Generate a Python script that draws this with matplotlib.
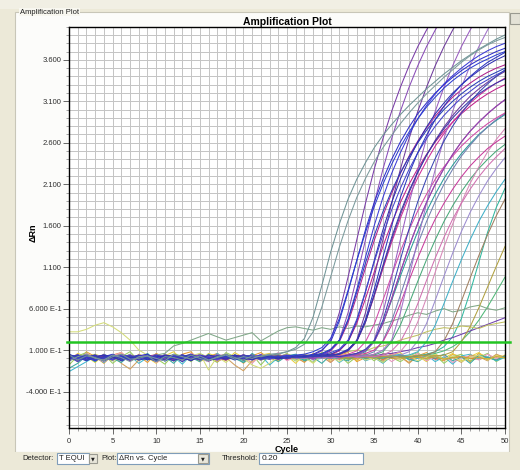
import matplotlib
matplotlib.use('Agg')
import matplotlib.pyplot as plt
from matplotlib.patches import Rectangle
from matplotlib.ticker import FixedLocator, MultipleLocator

W, H = 520, 470
cycles = list(range(51))

# earliest curves (grey-teal)
gray_curves = [
    [0.04, -0.02, 0.03, 0.01, -0.03, 0.02, 0.05, -0.01, 0.00, 0.03,
     -0.04, 0.02, 0.01, -0.02, 0.04, 0.00, -0.03, 0.02, 0.05, 0.01,
     -0.02, 0.03, 0.02, 0.04, 0.05, 0.08, 0.13, 0.24, 0.50, 0.88,
     1.28, 1.62, 1.92, 2.16, 2.36, 2.54, 2.69, 2.82, 2.94, 3.05,
     3.15, 3.25, 3.34, 3.43, 3.51, 3.59, 3.66, 3.73, 3.79, 3.85, 3.90],
    [-0.03, 0.02, 0.05, 0.00, -0.02, 0.04, 0.01, -0.04, 0.02, 0.03,
     0.00, -0.03, 0.05, 0.02, -0.01, 0.03, -0.02, 0.01, 0.04, -0.01,
     0.02, 0.00, 0.03, 0.05, 0.06, 0.08, 0.11, 0.17, 0.32, 0.62,
     0.98, 1.34, 1.66, 1.94, 2.17, 2.37, 2.54, 2.69, 2.83, 2.96,
     3.08, 3.19, 3.29, 3.39, 3.48, 3.57, 3.65, 3.72, 3.78, 3.83, 3.87],
]
gray_colors = ['#6F9496', '#7A9A9C']

blue_curves = [
    [0.03, -0.02, 0.01, 0.04, -0.03, 0.02, 0.00, -0.01, 0.03, 0.05,
     -0.02, 0.01, 0.02, -0.04, 0.03, 0.01, -0.02, 0.00, 0.04, 0.02,
     -0.01, 0.03, 0.00, 0.02, 0.01, 0.02, 0.01, 0.03, 0.05, 0.10,
     0.20, 0.45, 0.80, 1.18, 1.55, 1.88, 2.16, 2.40, 2.61, 2.79,
     2.95, 3.08, 3.20, 3.30, 3.39, 3.47, 3.54, 3.60, 3.65, 3.70, 3.74],
    [-0.02, 0.04, 0.01, -0.03, 0.02, 0.05, 0.00, -0.02, 0.03, 0.01,
     -0.04, 0.02, 0.03, 0.00, -0.02, 0.04, 0.01, -0.01, 0.02, 0.03,
     -0.02, 0.01, 0.04, 0.00, 0.02, 0.03, 0.01, 0.02, 0.04, 0.05,
     0.10, 0.21, 0.47, 0.83, 1.22, 1.60, 1.94, 2.23, 2.48, 2.70,
     2.89, 3.05, 3.19, 3.31, 3.41, 3.50, 3.58, 3.65, 3.71, 3.76, 3.80],
    [0.05, 0.01, -0.03, 0.02, 0.04, -0.01, 0.02, 0.03, -0.02, 0.00,
     0.04, 0.01, -0.03, 0.02, 0.05, 0.00, -0.01, 0.03, 0.02, -0.02,
     0.01, 0.03, 0.00, 0.02, -0.01, 0.02, 0.03, 0.02, 0.04, 0.06,
     0.11, 0.22, 0.46, 0.80, 1.15, 1.48, 1.77, 2.02, 2.24, 2.43,
     2.60, 2.75, 2.88, 3.00, 3.10, 3.19, 3.27, 3.34, 3.40, 3.45, 3.50],
    [0.00, 0.03, -0.02, 0.01, 0.04, 0.02, -0.03, 0.01, 0.03, 0.00,
     -0.02, 0.04, 0.02, 0.01, -0.03, 0.03, 0.00, 0.02, -0.01, 0.04,
     0.01, -0.02, 0.03, 0.02, 0.00, 0.01, 0.03, 0.02, 0.02, 0.04,
     0.05, 0.10, 0.20, 0.45, 0.80, 1.18, 1.55, 1.88, 2.16, 2.40,
     2.61, 2.79, 2.95, 3.08, 3.20, 3.30, 3.39, 3.47, 3.54, 3.60, 3.65],
    [0.02, -0.04, 0.03, 0.00, 0.01, -0.02, 0.04, 0.03, -0.01, 0.02,
     0.00, -0.03, 0.03, 0.01, 0.04, -0.02, 0.02, 0.00, 0.03, -0.01,
     0.02, 0.04, 0.00, -0.01, 0.02, 0.03, 0.01, 0.03, 0.02, 0.04,
     0.07, 0.11, 0.22, 0.47, 0.81, 1.16, 1.49, 1.79, 2.05, 2.28,
     2.48, 2.65, 2.80, 2.93, 3.04, 3.14, 3.22, 3.30, 3.36, 3.42, 3.47],
    [0.01, 0.04, -0.01, 0.02, -0.03, 0.03, 0.01, 0.00, 0.04, -0.02,
     0.02, 0.03, -0.01, 0.00, 0.03, 0.02, -0.03, 0.01, 0.04, 0.00,
     0.02, -0.01, 0.03, 0.01, 0.02, 0.00, 0.03, 0.02, 0.03, 0.02,
     0.04, 0.05, 0.10, 0.21, 0.47, 0.83, 1.22, 1.60, 1.94, 2.23,
     2.48, 2.69, 2.88, 3.04, 3.18, 3.30, 3.40, 3.49, 3.57, 3.63, 3.69],
    [-0.03, 0.02, 0.04, 0.00, 0.02, 0.01, -0.02, 0.03, 0.00, 0.04,
     0.01, -0.02, 0.02, 0.03, 0.00, -0.01, 0.04, 0.02, 0.00, 0.03,
     -0.02, 0.01, 0.02, 0.04, 0.00, 0.01, 0.02, 0.03, 0.02, 0.04,
     0.03, 0.06, 0.11, 0.21, 0.44, 0.77, 1.12, 1.46, 1.76, 2.02,
     2.25, 2.45, 2.62, 2.77, 2.90, 3.01, 3.11, 3.19, 3.26, 3.32, 3.37],
    [0.02, 0.00, 0.03, -0.02, 0.01, 0.04, 0.02, -0.01, 0.00, 0.03,
     0.01, -0.03, 0.02, 0.04, 0.00, 0.01, -0.02, 0.03, 0.02, 0.00,
     0.01, 0.03, -0.01, 0.02, 0.02, 0.03, 0.04, 0.05, 0.08, 0.13,
     0.24, 0.48, 0.82, 1.18, 1.52, 1.83, 2.10, 2.34, 2.55, 2.73,
     2.89, 3.03, 3.15, 3.26, 3.35, 3.43, 3.50, 3.56, 3.61, 3.66, 3.70],
    [0.01, 0.03, -0.02, 0.02, 0.00, 0.04, -0.01, 0.02, 0.03, 0.00,
     -0.03, 0.02, 0.01, 0.04, 0.00, 0.02, -0.02, 0.03, 0.01, 0.00,
     0.04, 0.02, -0.01, 0.01, 0.03, 0.00, 0.02, 0.01, 0.03, 0.02,
     0.03, 0.02, 0.04, 0.06, 0.11, 0.21, 0.46, 0.81, 1.19, 1.56,
     1.89, 2.17, 2.41, 2.62, 2.80, 2.96, 3.09, 3.21, 3.31, 3.40, 3.48],
]
blue_colors = ['#2F2FC8', '#3B3BD6', '#2A40B8', '#3030B0', '#4545CC',
               '#2B35C0', '#3838A8', '#2F3FD0', '#3A46B4']

magenta_curves = [
    [0.03, 0.00, 0.02, -0.02, 0.04, 0.01, 0.03, -0.01, 0.00, 0.02,
     0.04, -0.02, 0.01, 0.03, 0.00, 0.02, -0.03, 0.01, 0.03, 0.02,
     0.00, -0.01, 0.02, 0.03, 0.01, 0.00, 0.02, 0.01, 0.03, 0.02,
     0.04, 0.09, 0.20, 0.42, 0.72, 1.04, 1.35, 1.63, 1.88, 2.10,
     2.29, 2.46, 2.61, 2.74, 2.85, 2.95, 3.04, 3.12, 3.19, 3.25, 3.30],
    [-0.01, 0.03, 0.02, 0.00, -0.02, 0.03, 0.04, 0.01, -0.01, 0.02,
     0.00, 0.03, -0.02, 0.01, 0.04, 0.02, 0.00, -0.01, 0.03, 0.02,
     0.01, 0.04, 0.00, 0.02, -0.01, 0.03, 0.01, 0.02, 0.03, 0.02,
     0.03, 0.05, 0.09, 0.21, 0.44, 0.75, 1.08, 1.40, 1.69, 1.95,
     2.18, 2.38, 2.56, 2.71, 2.85, 2.97, 3.08, 3.17, 3.25, 3.32, 3.38],
    [0.02, 0.04, -0.01, 0.01, 0.03, 0.00, 0.02, -0.03, 0.03, 0.01,
     0.02, 0.00, 0.04, -0.01, 0.02, 0.03, 0.00, 0.01, -0.02, 0.03,
     0.02, 0.00, 0.04, 0.01, 0.02, -0.01, 0.03, 0.02, 0.01, 0.02,
     0.03, 0.02, 0.04, 0.06, 0.10, 0.20, 0.42, 0.72, 1.04, 1.35,
     1.63, 1.88, 2.10, 2.29, 2.46, 2.61, 2.74, 2.85, 2.95, 3.04, 3.12],
    [0.00, 0.02, 0.04, -0.02, 0.01, 0.03, 0.02, 0.00, -0.01, 0.03,
     0.04, 0.01, 0.00, 0.02, -0.02, 0.03, 0.01, 0.04, 0.00, 0.02,
     0.01, -0.01, 0.03, 0.02, 0.00, 0.03, 0.01, 0.02, 0.00, 0.03,
     0.02, 0.01, 0.03, 0.04, 0.06, 0.10, 0.20, 0.40, 0.66, 0.94,
     1.21, 1.46, 1.68, 1.87, 2.04, 2.19, 2.32, 2.43, 2.53, 2.61, 2.68],
    [0.04, 0.01, -0.02, 0.03, 0.00, 0.02, 0.01, -0.01, 0.04, 0.02,
     0.00, 0.03, 0.01, -0.02, 0.02, 0.04, 0.01, 0.00, 0.03, -0.01,
     0.02, 0.03, 0.00, 0.01, 0.02, 0.04, 0.01, 0.02, 0.02, 0.03,
     0.01, 0.03, 0.05, 0.09, 0.20, 0.41, 0.70, 1.00, 1.29, 1.55,
     1.78, 1.98, 2.16, 2.31, 2.44, 2.56, 2.66, 2.75, 2.83, 2.90, 2.96],
    [0.01, -0.02, 0.03, 0.02, 0.00, 0.04, 0.01, -0.01, 0.02, 0.03,
     0.00, 0.02, -0.03, 0.04, 0.01, 0.02, 0.00, 0.03, -0.01, 0.02,
     0.04, 0.00, 0.01, 0.03, 0.02, 0.00, 0.02, 0.03, 0.02, 0.04,
     0.09, 0.20, 0.43, 0.75, 1.09, 1.42, 1.72, 1.99, 2.23, 2.44,
     2.62, 2.78, 2.92, 3.04, 3.15, 3.24, 3.32, 3.39, 3.45, 3.50, 3.54],
    [0.03, 0.01, -0.02, 0.02, 0.04, 0.00, 0.01, 0.03, -0.01, 0.02,
     0.00, 0.04, 0.02, -0.02, 0.01, 0.03, 0.00, 0.02, 0.04, 0.01,
     -0.01, 0.03, 0.02, 0.00, 0.01, 0.03, 0.02, 0.00, 0.02, 0.01,
     0.03, 0.02, 0.04, 0.01, 0.03, 0.02, 0.04, 0.09, 0.20, 0.40,
     0.66, 0.94, 1.21, 1.46, 1.68, 1.87, 2.04, 2.19, 2.32, 2.43, 2.53],
]
magenta_colors = ['#C0208A', '#D02C98', '#B82880', '#C83C9C', '#D04AA8',
                  '#B0208C', '#D070B0']

purple_curves = [
    [0.02, 0.00, 0.03, -0.01, 0.02, 0.04, 0.01, -0.02, 0.03, 0.00,
     0.02, 0.01, 0.04, -0.01, 0.00, 0.03, 0.02, 0.01, -0.02, 0.03,
     0.00, 0.02, 0.04, 0.01, 0.00, 0.02, 0.01, 0.02, 0.04, 0.09,
     0.22, 0.55, 0.98, 1.43, 1.87, 2.28, 2.65, 2.98, 3.27, 3.53,
     3.76, 3.96, 4.14, 4.30, 4.44, 4.56, 4.66, 4.75, 4.83, 4.90, 4.96],
    [-0.02, 0.03, 0.01, 0.02, 0.00, -0.01, 0.04, 0.02, 0.01, 0.03,
     -0.02, 0.00, 0.02, 0.04, 0.01, -0.01, 0.03, 0.02, 0.00, 0.01,
     0.04, 0.02, -0.01, 0.03, 0.01, 0.00, 0.02, 0.01, 0.03, 0.05,
     0.10, 0.22, 0.55, 0.98, 1.43, 1.87, 2.28, 2.65, 2.98, 3.27,
     3.53, 3.76, 3.96, 4.14, 4.30, 4.44, 4.56, 4.66, 4.75, 4.83, 4.90],
    [0.03, 0.01, 0.00, 0.04, -0.02, 0.02, 0.03, 0.00, 0.01, -0.01,
     0.03, 0.02, 0.04, 0.00, -0.02, 0.02, 0.01, 0.03, 0.00, 0.04,
     0.02, -0.01, 0.01, 0.03, 0.00, 0.02, 0.01, 0.03, 0.02, 0.02,
     0.04, 0.05, 0.10, 0.22, 0.55, 0.98, 1.43, 1.87, 2.28, 2.65,
     2.98, 3.27, 3.53, 3.76, 3.96, 4.14, 4.30, 4.44, 4.56, 4.66, 4.75],
    [0.01, 0.03, -0.01, 0.02, 0.04, 0.00, 0.02, 0.03, -0.02, 0.01,
     0.04, 0.02, 0.00, 0.03, 0.01, -0.01, 0.02, 0.04, 0.00, 0.03,
     0.01, 0.02, -0.02, 0.03, 0.01, 0.00, 0.02, 0.04, 0.01, 0.02,
     0.03, 0.02, 0.03, 0.05, 0.10, 0.22, 0.55, 0.98, 1.43, 1.87,
     2.28, 2.65, 2.98, 3.27, 3.53, 3.76, 3.96, 4.14, 4.30, 4.44, 4.56],
    [0.02, 0.00, 0.04, 0.01, -0.02, 0.03, 0.02, 0.00, 0.01, 0.04,
     -0.01, 0.02, 0.03, 0.00, 0.02, 0.01, -0.02, 0.04, 0.03, 0.00,
     0.01, 0.02, 0.04, -0.01, 0.02, 0.03, 0.00, 0.01, 0.03, 0.02,
     0.00, 0.02, 0.03, 0.02, 0.03, 0.05, 0.10, 0.22, 0.55, 0.98,
     1.43, 1.87, 2.28, 2.65, 2.98, 3.27, 3.53, 3.76, 3.96, 4.14, 4.30],
    [0.00, 0.03, 0.02, -0.02, 0.01, 0.04, 0.00, 0.03, 0.02, -0.01,
     0.01, 0.03, 0.00, 0.04, 0.02, -0.02, 0.01, 0.03, 0.02, 0.00,
     0.04, 0.01, -0.01, 0.02, 0.03, 0.01, 0.02, 0.02, 0.04, 0.03,
     0.02, 0.05, 0.09, 0.20, 0.44, 0.76, 1.10, 1.43, 1.73, 2.00,
     2.24, 2.45, 2.63, 2.79, 2.93, 3.05, 3.16, 3.25, 3.33, 3.40, 3.46],
    [0.02, 0.04, 0.00, 0.01, -0.02, 0.03, 0.02, 0.04, 0.00, 0.01,
     0.03, -0.01, 0.02, 0.00, 0.04, 0.03, 0.01, -0.02, 0.02, 0.03,
     0.00, 0.01, 0.04, 0.02, 0.00, 0.03, 0.01, 0.02, 0.00, 0.03,
     0.04, 0.02, 0.03, 0.05, 0.09, 0.20, 0.42, 0.72, 1.04, 1.35,
     1.63, 1.88, 2.10, 2.29, 2.46, 2.61, 2.74, 2.85, 2.95, 3.04, 3.12],
]
purple_colors = ['#7A3CA8', '#8A4CB8', '#6E3A9C', '#9A5CC0', '#A070C8',
                 '#6E3A9C', '#8A4CB8']

late_curves = [
    [0.01, 0.04, -0.02, 0.03, 0.00, 0.02, 0.01, -0.01, 0.03, 0.04,
     0.00, 0.02, -0.02, 0.01, 0.03, 0.02, 0.00, 0.04, -0.01, 0.02,
     0.03, 0.01, 0.00, 0.02, 0.04, 0.01, 0.02, 0.00, 0.03, 0.02,
     0.02, 0.03, 0.03, 0.04, 0.08, 0.21, 0.42, 0.70, 0.99, 1.27,
     1.53, 1.77, 1.98, 2.17, 2.33, 2.47, 2.59, 2.70, 2.79, 2.87, 2.94],
    [0.03, 0.00, 0.02, 0.04, -0.01, 0.01, 0.03, 0.00, 0.02, -0.02,
     0.04, 0.01, 0.02, 0.03, 0.00, -0.01, 0.02, 0.04, 0.01, 0.00,
     0.03, 0.02, -0.02, 0.01, 0.03, 0.02, 0.00, 0.04, 0.01, 0.02,
     0.00, 0.03, 0.02, 0.01, 0.03, 0.04, 0.08, 0.20, 0.40, 0.66,
     0.93, 1.19, 1.43, 1.65, 1.84, 2.01, 2.16, 2.29, 2.40, 2.50, 2.58],
    [0.00, 0.02, 0.04, 0.01, -0.02, 0.03, 0.02, 0.00, 0.04, 0.01,
     -0.01, 0.03, 0.02, 0.00, 0.01, 0.04, 0.02, -0.02, 0.03, 0.01,
     0.00, 0.02, 0.04, 0.01, -0.01, 0.03, 0.02, 0.00, 0.02, 0.01,
     0.03, 0.00, 0.02, 0.03, 0.01, 0.02, 0.03, 0.04, 0.08, 0.21,
     0.44, 0.73, 1.04, 1.34, 1.62, 1.88, 2.11, 2.31, 2.49, 2.64, 2.77],
    [0.02, -0.01, 0.03, 0.00, 0.04, 0.02, 0.01, -0.02, 0.03, 0.00,
     0.02, 0.04, 0.01, 0.00, -0.01, 0.03, 0.02, 0.04, 0.00, 0.01,
     0.03, -0.02, 0.02, 0.01, 0.04, 0.00, 0.02, 0.03, 0.01, 0.00,
     0.02, 0.04, 0.01, 0.02, 0.02, 0.03, 0.02, 0.03, 0.04, 0.08,
     0.21, 0.42, 0.70, 0.99, 1.27, 1.53, 1.76, 1.96, 2.14, 2.29, 2.42],
    [0.01, 0.03, 0.00, -0.02, 0.02, 0.04, 0.01, 0.03, -0.01, 0.00,
     0.02, 0.04, 0.02, -0.02, 0.01, 0.03, 0.00, 0.02, 0.04, 0.01,
     -0.01, 0.03, 0.02, 0.00, 0.01, 0.04, 0.02, 0.00, 0.03, 0.01,
     0.02, 0.00, 0.03, 0.02, 0.01, 0.02, 0.01, 0.03, 0.03, 0.04,
     0.08, 0.20, 0.40, 0.66, 0.93, 1.19, 1.43, 1.65, 1.84, 2.01, 2.16],
    [0.03, 0.00, 0.02, 0.01, -0.02, 0.04, 0.02, 0.00, 0.03, -0.01,
     0.01, 0.04, 0.02, 0.00, 0.03, 0.01, -0.02, 0.02, 0.04, 0.00,
     0.01, 0.03, 0.02, -0.01, 0.04, 0.01, 0.00, 0.02, 0.03, 0.01,
     0.02, 0.04, 0.00, 0.02, 0.01, 0.03, 0.02, 0.01, 0.03, 0.02,
     0.03, 0.04, 0.08, 0.21, 0.42, 0.69, 0.97, 1.24, 1.49, 1.72, 1.92],
    [0.02, 0.04, 0.00, 0.01, 0.03, -0.02, 0.02, 0.00, 0.04, 0.01,
     0.03, -0.01, 0.02, 0.00, 0.03, 0.04, 0.01, -0.02, 0.02, 0.03,
     0.00, 0.01, 0.04, 0.02, -0.01, 0.03, 0.01, 0.02, 0.00, 0.03,
     0.02, 0.02, 0.03, 0.03, 0.04, 0.08, 0.21, 0.45, 0.76, 1.08,
     1.38, 1.65, 1.89, 2.10, 2.28, 2.44, 2.57, 2.69, 2.79, 2.88, 2.95],
    [0.00, 0.03, 0.02, -0.01, 0.04, 0.01, 0.02, 0.00, -0.02, 0.03,
     0.04, 0.01, 0.00, 0.02, 0.03, -0.01, 0.02, 0.04, 0.00, 0.01,
     0.03, 0.02, -0.02, 0.01, 0.04, 0.02, 0.00, 0.03, 0.01, 0.02,
     0.04, 0.00, 0.01, 0.03, 0.02, 0.00, 0.02, 0.03, 0.01, 0.02,
     0.04, 0.03, 0.03, 0.04, 0.08, 0.20, 0.38, 0.61, 0.86, 1.11, 1.35],
]
late_colors = ['#2A9A9A', '#48A878', '#D888B8', '#9C8CD0', '#40B0C8',
               '#A08060', '#7080B0', '#B0A040']

# curves that only start to rise near the end of the run
slow_curves = [
    [0.02, 0.00, 0.03, -0.02, 0.01, 0.04, 0.02, 0.00, 0.03, -0.01,
     0.02, 0.01, 0.04, 0.00, -0.02, 0.03, 0.02, 0.01, 0.00, 0.04,
     0.02, -0.01, 0.03, 0.00, 0.02, 0.04, 0.01, -0.02, 0.02, 0.03,
     0.00, 0.01, 0.04, 0.02, 0.00, 0.03, 0.01, 0.02, 0.04, 0.02,
     0.03, 0.05, 0.08, 0.14, 0.26, 0.48, 0.80, 1.16, 1.52, 1.82, 2.05],
    [0.01, 0.03, 0.00, 0.02, -0.02, 0.04, 0.01, 0.03, 0.00, 0.02,
     -0.01, 0.03, 0.04, 0.00, 0.02, 0.01, -0.02, 0.03, 0.02, 0.00,
     0.04, 0.01, 0.02, -0.01, 0.03, 0.00, 0.02, 0.04, 0.01, 0.00,
     0.03, 0.02, -0.01, 0.02, 0.04, 0.01, 0.00, 0.03, 0.02, 0.01,
     0.03, 0.04, 0.06, 0.09, 0.14, 0.21, 0.32, 0.46, 0.62, 0.80, 0.98],
    [0.02, 0.00, -0.02, 0.03, 0.01, 0.04, 0.00, 0.02, 0.03, -0.01,
     0.01, 0.04, 0.02, 0.00, 0.03, -0.02, 0.02, 0.01, 0.04, 0.00,
     0.03, 0.02, -0.01, 0.01, 0.03, 0.04, 0.00, 0.02, -0.01, 0.03,
     0.02, 0.00, 0.04, 0.01, 0.02, 0.03, 0.05, 0.06, 0.08, 0.10,
     0.13, 0.15, 0.18, 0.22, 0.25, 0.29, 0.33, 0.37, 0.41, 0.45, 0.49],
    [0.03, -0.01, 0.02, 0.05, 0.01, -0.03, 0.02, 0.04, 0.00, 0.03,
     -0.02, 0.01, 0.04, 0.02, -0.01, 0.03, 0.00, 0.02, 0.05, 0.01,
     -0.02, 0.03, 0.02, 0.00, 0.04, 0.01, 0.03, 0.05, 0.02, 0.04,
     0.06, 0.05, 0.08, 0.10, 0.09, 0.13, 0.15, 0.18, 0.22, 0.25,
     0.28, 0.32, 0.35, 0.37, 0.36, 0.39, 0.38, 0.36, 0.40, 0.42, 0.44],
    [0.02, -0.03, 0.04, 0.01, -0.02, 0.03, 0.00, 0.05, -0.01, 0.02,
     0.04, 0.06, 0.15, 0.18, 0.22, 0.26, 0.30, 0.26, 0.22, 0.25,
     0.28, 0.31, 0.21, 0.27, 0.33, 0.37, 0.38, 0.36, 0.34, 0.37,
     0.35, 0.38, 0.36, 0.39, 0.38, 0.40, 0.42, 0.45, 0.48, 0.52,
     0.55, 0.53, 0.57, 0.60, 0.56, 0.58, 0.62, 0.64, 0.60, 0.58, 0.61],
]
slow_colors = ['#30B8A0', '#50B878', '#7040B0', '#C0C060', '#80A888']

# wells that never amplify
flat_curves = [
    [0.05, -0.04, 0.08, 0.02, -0.06, 0.04, 0.07, -0.02, 0.03, -0.05,
     0.06, 0.01, -0.03, 0.05, 0.08, -0.04, 0.02, 0.06, -0.01, 0.04,
     -0.06, 0.03, 0.07, 0.00, -0.03, 0.05, 0.02, -0.05, 0.06, 0.03,
     -0.02, 0.04, 0.07, -0.04, 0.01, 0.05, -0.02, 0.06, 0.02, -0.05,
     0.03, 0.07, 0.00, -0.03, 0.05, 0.02, -0.04, 0.06, 0.01, -0.02, 0.04],
    [-0.03, 0.06, 0.02, -0.05, 0.04, 0.00, 0.07, -0.03, 0.05, 0.01,
     -0.06, 0.03, 0.08, -0.02, 0.04, -0.04, 0.06, 0.02, -0.03, 0.07,
     0.01, -0.05, 0.04, 0.06, -0.02, 0.03, -0.06, 0.05, 0.00, 0.07,
     -0.04, 0.02, 0.05, -0.03, 0.06, 0.01, -0.05, 0.04, 0.07, -0.02,
     0.03, -0.04, 0.05, 0.00, 0.06, -0.03, 0.02, 0.07, -0.01, 0.04, 0.02],
    [0.01, 0.02, 0.00, 0.01, -0.01, 0.02, 0.01, 0.00, 0.02, -0.01,
     0.01, 0.00, 0.02, 0.01, -0.01, 0.00, 0.02, 0.01, 0.00, 0.01,
     -0.01, 0.02, 0.00, 0.01, 0.02, -0.01, 0.01, 0.00, 0.02, 0.01,
     0.00, -0.01, 0.01, 0.02, 0.00, 0.01, -0.01, 0.02, 0.01, 0.00,
     0.01, 0.02, -0.01, 0.00, 0.01, 0.02, 0.00, -0.01, 0.01, 0.02, 0.01],
    [-0.08, 0.03, 0.07, -0.02, 0.05, -0.06, 0.02, 0.08, -0.03, 0.04,
     0.00, -0.07, 0.05, 0.03, -0.04, 0.06, 0.01, -0.05, 0.07, 0.02,
     -0.03, 0.05, -0.08, 0.04, 0.01, 0.06, -0.02, 0.03, -0.05, 0.07,
     0.00, 0.04, -0.06, 0.02, 0.05, -0.03, 0.06, 0.01, -0.04, 0.03,
     0.07, -0.02, 0.04, -0.06, 0.02, 0.05, -0.03, 0.01, 0.06, -0.04, 0.03],
    [-0.16, -0.10, -0.04, 0.02, -0.05, 0.04, -0.02, 0.03, -0.06, 0.01,
     0.05, -0.03, 0.02, -0.07, 0.04, 0.00, -0.04, 0.06, -0.01, 0.03,
     -0.05, 0.02, 0.04, -0.08, 0.01, 0.03, -0.03, 0.05, -0.02, 0.00,
     0.04, -0.05, 0.02, 0.06, -0.03, 0.01, -0.06, 0.03, 0.05, -0.02,
     0.00, 0.04, -0.04, 0.02, -0.07, 0.03, 0.05, -0.01, 0.02, -0.03, 0.01],
    [0.04, -0.02, 0.06, 0.01, -0.04, 0.03, 0.07, -0.03, 0.02, 0.05,
     -0.05, 0.01, 0.04, -0.02, 0.06, 0.00, -0.04, 0.03, 0.05, -0.01,
     0.02, -0.06, 0.04, 0.01, 0.07, -0.03, 0.02, 0.05, -0.02, 0.03,
     -0.05, 0.04, 0.00, 0.06, -0.02, 0.01, 0.05, -0.04, 0.03, 0.00,
     0.06, -0.03, 0.02, 0.04, -0.05, 0.01, 0.03, -0.02, 0.05, 0.00, 0.02],
    [0.02, -0.04, 0.05, 0.01, -0.03, 0.04, -0.06, -0.13, -0.02, 0.03,
     0.00, 0.04, -0.03, 0.02, 0.05, -0.01, 0.03, -0.04, 0.01, -0.08,
     -0.15, -0.03, 0.04, 0.01, -0.02, 0.05, 0.00, -0.04, 0.03, 0.02,
     -0.05, 0.04, 0.01, -0.02, 0.05, 0.00, -0.03, 0.04, 0.02, -0.06,
     0.03, 0.00, 0.05, -0.02, 0.01, -0.05, 0.04, 0.02, -0.03, 0.05, 0.01],
    [-0.12, -0.06, 0.03, -0.04, 0.05, 0.00, -0.05, 0.04, -0.02, 0.06,
     -0.03, 0.02, -0.06, 0.04, 0.01, -0.04, 0.05, -0.02, 0.03, 0.00,
     -0.05, 0.06, -0.01, 0.02, -0.04, 0.03, 0.05, -0.03, 0.01, -0.06,
     0.04, 0.00, -0.03, 0.05, -0.02, 0.03, -0.05, 0.02, 0.04, -0.01,
     -0.04, 0.03, 0.00, 0.05, -0.03, 0.02, -0.06, 0.04, 0.01, -0.02, 0.03],
    [0.32, 0.32, 0.35, 0.40, 0.43, 0.38, 0.31, 0.22, 0.10, 0.04,
     -0.02, 0.05, 0.01, -0.04, 0.03, 0.06, -0.14, 0.02, -0.05, 0.04,
     0.00, -0.08, -0.12, -0.06, 0.02, 0.05, -0.03, 0.01, -0.06, 0.04,
     0.02, -0.04, 0.03, 0.05, -0.02, 0.01, -0.05, 0.03, 0.00, 0.04,
     -0.03, 0.02, 0.05, -0.01, 0.03, -0.04, 0.01, 0.04, -0.02, 0.03, 0.00],
    [0.00, 0.02, 0.01, -0.01, 0.02, 0.00, 0.01, 0.03, -0.01, 0.01,
     0.02, 0.00, -0.01, 0.02, 0.01, 0.00, 0.02, -0.01, 0.01, 0.03,
     0.00, 0.01, -0.01, 0.02, 0.00, 0.01, 0.02, -0.01, 0.01, 0.00,
     0.02, 0.01, -0.01, 0.00, 0.02, 0.01, 0.03, 0.00, -0.01, 0.02,
     0.01, 0.00, 0.02, -0.01, 0.01, 0.02, 0.00, 0.01, -0.01, 0.02, 0.01],
]
flat_colors = ['#E89A30', '#E8D040', '#E05050', '#98CC60', '#40B8D0',
               '#E898C0', '#D0A060', '#38A8A0', '#D4DC78', '#C8A830']

x_ticks = [0, 5, 10, 15, 20, 25, 30, 35, 40, 45, 50]
y_ticks = [3.6, 3.1, 2.6, 2.1, 1.6, 1.1, 0.6, 0.1, -0.4]
y_tick_labels = ['3.600', '3.100', '2.600', '2.100', '1.600', '1.100',
                 '6.000 E-1', '1.000 E-1', '-4.000 E-1']
threshold = 0.20

plt.rcParams['font.family'] = ['Liberation Sans', 'DejaVu Sans']

fig = plt.figure(figsize=(W / 100, H / 100), dpi=100)
fig.patch.set_facecolor('#ECE9D8')


def box(x, y, w, h, fc, ec='none', lw=0.8, z=-1):
    # x, y, w, h in screen pixels, y from top
    fig.add_artist(Rectangle((x / W, 1 - (y + h) / H), w / W, h / H,
                             transform=fig.transFigure, facecolor=fc,
                             edgecolor=ec, linewidth=lw, zorder=z))


def label(x, y, s, **kw):
    kw.setdefault('fontsize', 5.5)
    kw.setdefault('va', 'center')
    kw.setdefault('color', '#202020')
    fig.text(x / W, 1 - y / H, s, **kw)


# window chrome
box(0, 0, W, 9, '#F1EFE4')
box(15, 12, 494, 440, '#FCFCFA', ec='#C8C6B8')
label(20, 12, 'Amplification Plot', fontsize=5.5,
      bbox=dict(facecolor='#F8F7F0', edgecolor='none', pad=0.6))
box(510, 13, 10, 11, '#E4E2D6', ec='#9A9A90')

box(0, 452, W, 18, '#ECE9D8')
label(22, 459, 'Detector:')
box(57, 453, 32, 11, 'white', ec='#7F9DB9')
label(59, 459, 'T EQUI')
box(89, 454, 8, 9, '#E8E6DA', ec='#9A9A90')
label(93, 459, '\u25bc', fontsize=3.5, ha='center', family='DejaVu Sans')
label(101, 459, 'Plot:')
box(117, 453, 92, 11, 'white', ec='#7F9DB9')
label(119, 459, '\u0394Rn vs. Cycle')
box(198, 454, 10, 9, '#E8E6DA', ec='#9A9A90')
label(203, 459, '\u25bc', fontsize=3.5, ha='center', family='DejaVu Sans')
label(222, 459, 'Threshold:')
box(259, 453, 104, 11, 'white', ec='#7F9DB9')
label(262, 459, f'{threshold:.2f}', fontsize=6)

ax = fig.add_axes([69 / W, 1 - 428 / H, 436 / W, 401.3 / H])
ax.set_facecolor('white')

groups = [(flat_curves, flat_colors), (slow_curves, slow_colors),
          (late_curves, late_colors), (magenta_curves, magenta_colors),
          (purple_curves, purple_colors), (blue_curves, blue_colors),
          (gray_curves, gray_colors)]
for curves, colors in groups:
    for vals, col in zip(curves, colors):
        ax.plot(cycles, vals, color=col, lw=0.75)

ax.axhline(threshold, xmin=-0.005, xmax=1.012, color='#22C422', lw=1.8,
           clip_on=False, zorder=5)

ax.set_xlim(0, 50)
ax.set_ylim(-0.84, 4.0)
ax.xaxis.set_major_locator(FixedLocator(x_ticks))
ax.xaxis.set_minor_locator(MultipleLocator(1))
ax.yaxis.set_major_locator(FixedLocator(y_ticks))
ax.yaxis.set_minor_locator(MultipleLocator(0.1))
ax.set_yticklabels(y_tick_labels)
ax.grid(which='both', color='#C4C4C4', lw=0.7)
ax.set_axisbelow(True)
for sp in ax.spines.values():
    sp.set_color('black')
    sp.set_linewidth(1.0)
ax.tick_params(which='major', direction='out', length=4, width=0.6,
               labelsize=5.5, labelcolor='#303030', color='#505050', pad=1.5)
ax.tick_params(which='minor', direction='out', length=2.5, width=0.5,
               color='#808080')
ax.tick_params(axis='x', which='major', pad=3)

ax.set_title('Amplification Plot', fontsize=7.5, fontweight='bold', pad=1.5)
ax.set_xlabel('Cycle', fontsize=6.5, fontweight='bold', labelpad=0)
ax.set_ylabel('\u0394Rn', fontsize=6.5, fontweight='bold')
ax.yaxis.set_label_coords(-0.073, 0.486)

fig.savefig('out.png', dpi=100, facecolor=fig.get_facecolor())
